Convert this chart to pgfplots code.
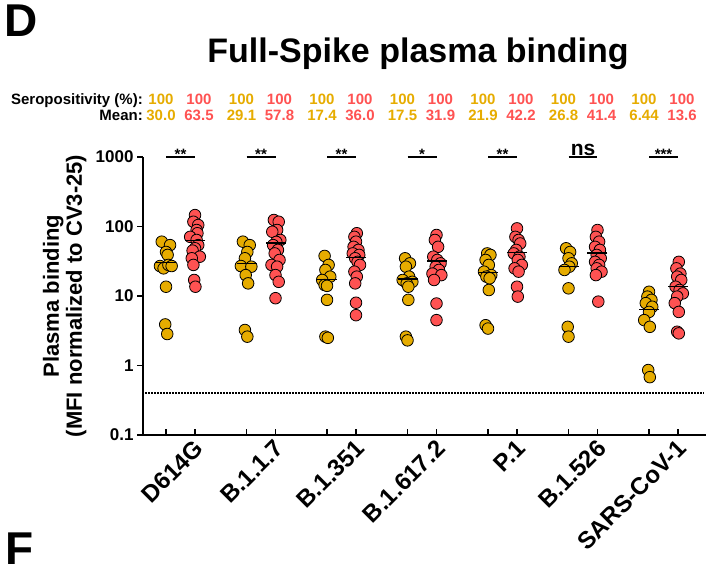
\documentclass[border=0pt]{standalone}
\usepackage{fontspec}
\setmainfont{Liberation Sans}
\usepackage{pgfplots}
\usepackage{pgfplotstable}
\pgfplotsset{compat=1.18}

\definecolor{yel}{RGB}{230,172,0}
\definecolor{redc}{RGB}{255,82,82}

% convalescent (yellow) and vaccinated (red) plasma, x = group -/+ 0.18 with jitter
\pgfplotstableread{
x y
0.767 60.5
0.87 54
0.82 43
0.84 39
0.745 27
0.79 25
0.85 28
0.89 27
0.82 13.6
0.81 3.9
0.835 2.84
1.775 60.5
1.86 54
1.83 43
1.80 34.9
1.75 27
1.88 26.4
1.81 20
1.84 15.2
1.80 3.24
1.83 2.6
2.79 37.7
2.84 28
2.80 23.7
2.86 19
2.76 17
2.79 14.4
2.82 14
2.82 8.8
2.80 2.6
2.83 2.5
3.79 34.9
3.85 29.5
3.80 26.4
3.84 19
3.76 17
3.88 16
3.81 15.2
3.83 13.6
3.83 8.8
3.80 2.6
3.82 2.3
4.81 41
4.85 39
4.79 33
4.83 28
4.77 22.4
4.86 20
4.80 19
4.84 18
4.83 12.2
4.79 3.8
4.82 3.4
5.79 48.6
5.84 43
5.82 34.9
5.86 29.5
5.83 26.4
5.77 23.7
5.82 12.9
5.81 3.6
5.82 2.6
6.82 11.5
6.80 9.8
6.85 8.8
6.78 7.9
6.86 7
6.82 5.9
6.76 4.5
6.83 3.6
6.81 0.86
6.83 0.68
}\conv

\pgfplotstableread{
x y
1.18 146
1.16 117
1.22 105
1.2 89
1.21 80
1.12 71
1.2 64
1.22 54
1.18 48.6
1.15 45
1.24 36.8
1.14 34.9
1.16 28
1.17 17
1.185 13.6
2.16 124
2.22 117
2.20 89
2.14 84
2.24 64
2.19 60
2.15 54
2.21 46
2.17 41
2.23 33
2.13 28
2.20 26.4
2.18 20
2.22 16
2.18 9.3
3.19 80
3.16 71
3.18 60.5
3.15 51
3.21 46
3.14 41
3.22 39
3.17 34.9
3.20 31
3.23 28
3.16 22.4
3.19 19
3.17 15.2
3.18 8
3.18 5.3
4.18 75.5
4.16 64
4.20 51
4.14 36.8
4.19 33
4.23 29.5
4.17 26.4
4.21 23.7
4.13 21
4.24 20
4.15 17
4.18 7.8
4.18 4.5
5.18 94
5.16 71
5.20 64
5.22 57
5.17 46
5.14 41
5.21 36.8
5.19 33
5.24 28
5.15 25
5.20 22.4
5.18 13.6
5.19 9.8
6.18 89
6.16 71
6.20 60.5
6.15 51
6.21 46
6.17 39
6.22 34.9
6.15 31
6.20 28
6.17 25
6.23 22.4
6.16 20
6.19 8.3
7.19 31
7.16 25
7.21 21
7.17 19
7.22 17
7.15 13.6
7.20 12.2
7.24 10.9
7.17 9.8
7.14 7.9
7.19 5.9
7.17 3.06
7.19 2.9
}\vacc

\pgfplotstableread{
x y
0.82 30.0
1.18 63.5
1.82 29.1
2.18 57.8
2.82 17.4
3.18 36.0
3.82 17.5
4.18 31.9
4.82 21.9
5.18 42.2
5.82 26.8
6.18 41.4
6.82 6.44
7.18 13.6
}\means

\newcommand{\hdr}{\bfseries\fontsize{15}{15}\selectfont}

\begin{document}
\begin{tikzpicture}
\path[use as bounding box] (0,0) rectangle (717pt,563pt);

\node[anchor=north west, inner sep=0, font=\bfseries\fontsize{46}{46}\selectfont] at (4pt,558pt) {D};
\node[anchor=north west, inner sep=0, font=\bfseries\fontsize{46}{46}\selectfont] at (5pt,30pt) {F};
\node[anchor=base, inner sep=0, font=\bfseries\fontsize{34}{34}\selectfont] at (418pt,500pt) {Full-Spike plasma binding};

\node[anchor=base east, inner sep=0, font=\hdr] at (143pt,458.5pt) {Seropositivity (\%):};
\node[anchor=base east, inner sep=0, font=\hdr] at (143pt,442.5pt) {Mean:};
\foreach \k/\a/\b in {0/30.0/63.5, 1/29.1/57.8, 2/17.4/36.0, 3/17.5/31.9, 4/21.9/42.2, 5/26.8/41.4, 6/6.44/13.6} {
  \node[anchor=base, inner sep=0, font=\hdr, text=yel] at ({(161+80.5*\k)*1pt},458.5pt) {100};
  \node[anchor=base, inner sep=0, font=\hdr, text=redc] at ({(199+80.5*\k)*1pt},458.5pt) {100};
  \node[anchor=base, inner sep=0, font=\hdr, text=yel] at ({(161+80.5*\k)*1pt},442.5pt) {\a};
  \node[anchor=base, inner sep=0, font=\hdr, text=redc] at ({(199+80.5*\k)*1pt},442.5pt) {\b};
}

\begin{axis}[
  at={(143pt,128pt)}, anchor=south west,
  scale only axis, width=563pt, height=278pt,
  ymode=log, ymin=0.1, ymax=1000,
  xmin=0.534, xmax=7.528,
  clip=false,
  axis x line*=bottom, axis y line*=left,
  axis line style={line width=1.8pt},
  major tick style={line width=1.5pt, black},
  major tick length=6pt,
  xtick align=inside, ytick align=outside,
  yminorticks=false,
  ytick={0.1,1,10,100,1000},
  yticklabels={0.1,1,10,100,1000},
  xtick={0.82,1.18,1.82,2.18,2.82,3.18,3.82,4.18,4.82,5.18,5.82,6.18,6.82,7.18},
  xticklabels={},
  extra x ticks={1,2,3,4,5,6,7},
  extra x tick labels={D614G,B.1.1.7,B.1.351,B.1.617.2,P.1,B.1.526,SARS-CoV-1},
  extra x tick style={major tick length=0pt,
    xticklabel style={rotate=45, anchor=north east, xshift=10pt, yshift=-8pt,
      font=\bfseries\fontsize{24}{24}\selectfont}},
  /pgf/number format/assume math mode=true,
  yticklabel style={font=\bfseries\fontsize{17}{17}\selectfont},
  ylabel={Plasma binding\\(MFI normalized to CV3-25)},
  ylabel style={align=center, font=\bfseries\fontsize{22}{23}\selectfont,
    at={(axis description cs:-0.139,0.5)}, anchor=center},
]
\addplot[dash pattern=on 1.5pt off 1.5pt, line width=1.5pt] coordinates {(0.56,0.4) (7.5,0.4)};

\addplot[only marks, mark=*, mark size=5.8pt, mark options={fill=yel, draw=black, line width=0.8pt}] table {\conv};
\addplot[only marks, mark=*, mark size=5.8pt, mark options={fill=redc, draw=black, line width=0.8pt}] table {\vacc};
\addplot[only marks, mark=-, mark size=10pt, mark options={line width=1.3pt, black}] table {\means};

\addplot[black, line width=2pt, unbounded coords=jump] coordinates {
  (0.82,1000) (1.18,1000) (nan,nan)
  (1.82,1000) (2.18,1000) (nan,nan)
  (2.82,1000) (3.18,1000) (nan,nan)
  (3.82,1000) (4.18,1000) (nan,nan)
  (4.82,1000) (5.18,1000) (nan,nan)
  (5.82,1000) (6.18,1000) (nan,nan)
  (6.82,1000) (7.18,1000)};

\node[anchor=base, font=\bfseries\fontsize{15}{15}\selectfont, yshift=-2pt] at (axis cs:1,1000) {**};
\node[anchor=base, font=\bfseries\fontsize{15}{15}\selectfont, yshift=-2pt] at (axis cs:2,1000) {**};
\node[anchor=base, font=\bfseries\fontsize{15}{15}\selectfont, yshift=-2pt] at (axis cs:3,1000) {**};
\node[anchor=base, font=\bfseries\fontsize{15}{15}\selectfont, yshift=-2pt] at (axis cs:4,1000) {*};
\node[anchor=base, font=\bfseries\fontsize{15}{15}\selectfont, yshift=-2pt] at (axis cs:5,1000) {**};
\node[anchor=base, font=\bfseries\fontsize{21}{21}\selectfont, yshift=2pt] at (axis cs:6,1000) {ns};
\node[anchor=base, font=\bfseries\fontsize{15}{15}\selectfont, yshift=-2pt] at (axis cs:7,1000) {***};
\end{axis}
\end{tikzpicture}
\end{document}
